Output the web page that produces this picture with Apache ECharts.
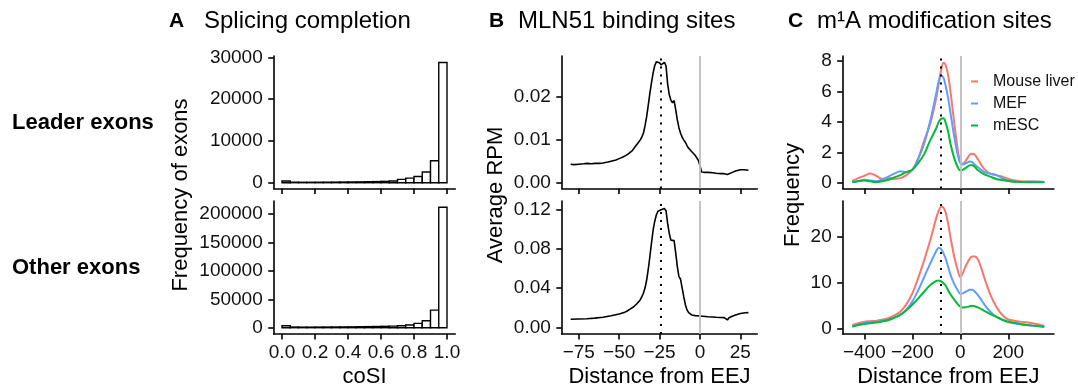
<!DOCTYPE html>
<html>
<head>
<meta charset="utf-8">
<script src="https://cdn.jsdelivr.net/npm/echarts@6/dist/echarts.min.js"></script>
<style>html,body{margin:0;padding:0;background:#fff}#c{width:1078px;height:389px}</style>
</head>
<body>
<div id="c"></div>
<script>
// ---------- DATA ----------
const binStart = [0,0.05,0.1,0.15,0.2,0.25,0.3,0.35,0.4,0.45,0.5,0.55,0.6,0.65,0.7,0.75,0.8,0.85,0.9,0.95];
const binWidth = 0.05;
const leaderCounts = [420,120,100,100,110,120,140,160,180,200,230,270,320,400,790,1100,1500,2550,5240,28740];
const otherCounts = [3500,1200,1000,1000,1100,1200,1300,1400,1500,1700,1900,2100,2400,2800,3500,4700,7700,12300,31000,212000];

const mlnLeaderX = [-80,-78,-75,-72,-70,-67,-65,-62,-60,-57,-55,-52,-50,-48,-46,-44,-42,-40,-38,-37,-36,-35,-34,-33,-32,-31,-30,-29,-28,-27,-26,-25,-24,-23,-22,-21,-20,-19,-18,-17,-16,-15,-14,-13,-12,-11,-10,-9,-8,-7,-6,-5,-4,-3,-2,-1,0,1,3,5,8,10,13,15,17,18,20,22,25,27,30];
const mlnLeaderY = [0.0043,0.0042,0.0043,0.0044,0.0045,0.0044,0.0045,0.0045,0.0046,0.0048,0.0050,0.0053,0.0056,0.0059,0.0063,0.0068,0.0074,0.0084,0.0094,0.0099,0.0106,0.0115,0.0132,0.0153,0.0180,0.0208,0.0232,0.0255,0.0272,0.0281,0.0282,0.0279,0.0274,0.0270,0.0280,0.0272,0.0230,0.0205,0.0192,0.0186,0.0191,0.0170,0.0146,0.0128,0.0115,0.0106,0.0099,0.0094,0.0086,0.0080,0.0076,0.0072,0.0069,0.0064,0.0058,0.0052,0.0040,0.0025,0.0024,0.0024,0.0023,0.0022,0.0021,0.0021,0.0019,0.0020,0.0024,0.0027,0.0030,0.0030,0.0029];
const mlnOtherX = [-80,-75,-70,-65,-60,-55,-50,-47,-45,-43,-41,-39,-37,-36,-35,-34,-33,-32,-31,-30,-29,-28,-27,-26,-25,-24,-23,-22,-21,-20,-19,-18,-17,-16,-15,-14,-13,-12,-11,-10,-9,-8,-7,-6,-5,-3,0,5,10,15,16,17,18,19,20,22,25,28,30];
const mlnOtherY = [0.0082,0.0085,0.0088,0.0094,0.0102,0.0117,0.0136,0.0150,0.0166,0.0188,0.0210,0.0240,0.0279,0.0310,0.0347,0.0400,0.0480,0.0590,0.0720,0.0860,0.0990,0.1080,0.1146,0.1185,0.1204,0.1200,0.1185,0.1212,0.1190,0.1060,0.0960,0.0890,0.0870,0.0885,0.0760,0.0620,0.0517,0.0490,0.0400,0.0310,0.0230,0.0177,0.0150,0.0133,0.0125,0.0119,0.0115,0.0108,0.0102,0.0099,0.0090,0.0075,0.0098,0.0105,0.0112,0.0125,0.0140,0.0148,0.0150];

const m1aX = [-450,-425,-400,-375,-350,-325,-300,-275,-250,-225,-200,-175,-150,-125,-100,-90,-80,-70,-60,-50,-40,-25,-10,0,10,25,40,50,60,75,100,125,150,175,200,250,300,350];
const leaderLiver = [0.12,0.3,0.45,0.6,0.45,0.25,0.3,0.25,0.3,0.5,0.85,1.6,2.8,3.9,5.6,6.5,7.4,7.9,7.7,7.0,5.9,3.9,2.1,1.3,1.25,1.5,1.85,1.9,1.85,1.5,0.9,0.6,0.5,0.4,0.25,0.1,0.07,0.05];
const leaderMEF = [0.05,0.1,0.2,0.15,0.1,0.2,0.4,0.6,0.75,0.7,0.85,1.6,2.6,4.1,5.9,6.7,7.05,6.9,6.3,5.5,4.5,3.0,1.8,1.3,1.2,1.3,1.4,1.35,1.2,1.0,0.7,0.6,0.5,0.3,0.12,0.05,0.08,0.05];
const leaderESC = [0.05,0.12,0.15,0.1,0.03,0.1,0.2,0.35,0.5,0.7,0.85,1.3,1.9,2.8,3.6,4.0,4.2,4.25,3.9,3.3,2.5,1.6,1.0,0.8,0.85,1.0,1.15,1.15,1.05,0.8,0.55,0.4,0.25,0.18,0.12,0.05,0.03,0.03];
const otherLiver = [0.7,1.1,1.45,1.55,1.6,1.9,2.2,2.8,3.6,5.2,7.6,11.0,14.9,19.2,24.0,25.5,26.4,26.2,25.0,22.5,19.5,15.5,12.5,11.1,12.0,13.8,15.2,15.6,15.6,14.8,11.0,7.3,4.7,2.9,1.9,1.45,1.1,0.5];
const otherMEF = [0.36,0.8,1.1,1.3,1.45,1.6,1.8,2.3,2.9,4.0,5.8,8.3,11.2,14.1,16.8,17.5,17.2,16.3,15.0,13.2,11.5,9.6,8.2,7.5,7.6,8.0,8.4,8.4,8.0,7.1,5.2,3.6,2.5,1.8,1.3,0.9,0.58,0.36];
const otherESC = [0.36,0.7,0.95,1.1,1.25,1.5,1.8,2.3,2.9,3.9,5.1,6.5,8.0,9.4,10.3,10.4,10.2,9.8,9.2,8.2,7.3,6.2,5.2,4.7,4.5,4.6,4.8,4.9,4.8,4.5,3.8,3.1,2.5,1.9,1.45,0.95,0.58,0.36];

const ticksA_x = [0,0.2,0.4,0.6,0.8,1.0];
const ticksA_yTop = [0,10000,20000,30000];
const ticksA_yBot = [0,50000,100000,150000,200000];
const ticksB_x = [-75,-50,-25,0,25];
const ticksB_yTop = [0,0.01,0.02];
const ticksB_yBot = [0,0.04,0.08,0.12];
const ticksC_x = [-400,-200,0,200];
const ticksC_yTop = [0,2,4,6,8];
const ticksC_yBot = [0,10,20];
const peakB = -24, peakC = -80;

// ---------- OPTION ----------
const FF = "'Liberation Sans', Arial, Helvetica, sans-serif";
const TICKFS = 19;
const minus = s => String(s).replace('-', '\u2212');
const topY = 56, topH = 132.5, botY = 201, botH = 133;
const grids = [
  {left:273.75, width:181.5, top:topY, height:topH},
  {left:273.75, width:181.5, top:botY, height:botH},
  {left:561.8, width:195.5, top:topY, height:topH},
  {left:561.8, width:195.5, top:botY, height:botH},
  {left:842.7, width:211.2, top:topY, height:topH},
  {left:842.7, width:211.2, top:botY, height:botH}
];
function ax(type, gi, min, max, ticks, showLabels, fmt){
  return {
    type:'value', gridIndex:gi, min:min, max:max,
    axisLine:{show:true, onZero:false, lineStyle:{color:'#000', width:1.6}},
    axisTick:{show:true, customValues:ticks, length:5.5, lineStyle:{color:'#000', width:1.6}},
    axisLabel:{show:showLabels, customValues:ticks, formatter:fmt, fontSize:TICKFS, fontFamily:FF, color:'#111', margin: type==='x'?9:11},
    splitLine:{show:false}
  };
}
const xAxes = [
  ax('x',0,-0.05,1.05,ticksA_x,false,v=>v.toFixed(1)),
  ax('x',1,-0.05,1.05,ticksA_x,true,v=>v.toFixed(1)),
  ax('x',2,-85.5,35.5,ticksB_x,false,v=>minus(v)),
  ax('x',3,-85.5,35.5,ticksB_x,true,v=>minus(v)),
  ax('x',4,-490,390,ticksC_x,false,v=>minus(v)),
  ax('x',5,-490,390,ticksC_x,true,v=>minus(v))
];
const yAxes = [
  ax('y',0,-1388,30311,ticksA_yTop,true,v=>String(v)),
  ax('y',1,-11092,223063,ticksA_yBot,true,v=>String(v)),
  ax('y',2,-0.00135,0.02947,ticksB_yTop,true,v=>v.toFixed(2)),
  ax('y',3,-0.00684,0.1289,ticksB_yBot,true,v=>v.toFixed(2)),
  ax('y',4,-0.38,8.34,ticksC_yTop,true,v=>String(v)),
  ax('y',5,-1.24,27.67,ticksC_yBot,true,v=>String(v))
];

function hist(gi, counts){
  return {
    type:'custom', xAxisIndex:gi, yAxisIndex:gi,
    data: binStart.map((s,i)=>[s, s+binWidth, counts[i]]),
    encode:{x:[0,1], y:2},
    renderItem:(params, api)=>{
      const p0 = api.coord([api.value(0), 0]);
      const p1 = api.coord([api.value(1), api.value(2)]);
      return {type:'rect', shape:{x:p0[0], y:p1[1], width:p1[0]-p0[0], height:p0[1]-p1[1]},
        style:{fill:'#fff', stroke:'#000', lineWidth:1.4}};
    }
  };
}
function vlines(peak){
  return {
    silent:true, symbol:['none','none'], label:{show:false}, animation:false,
    data:[
      {xAxis:0, lineStyle:{color:'#BEBEBE', width:1.8, type:'solid'}},
      {xAxis:peak, lineStyle:{color:'#000', width:2, type:[2,6]}}
    ]
  };
}
function line(gi, xs, ys, name, color, width, smooth, ml){
  const s = {
    type:'line', name:name, xAxisIndex:gi, yAxisIndex:gi,
    data: xs.map((x,i)=>[x, ys[i]]),
    showSymbol:false, symbol:'none', smooth:smooth,
    lineStyle:{color:color, width:width}, itemStyle:{color:color},
    emphasis:{disabled:true}, animation:false, z:3
  };
  if (ml) s.markLine = ml;
  return s;
}
const RED='#F8766D', BLUE='#619CFF', GREEN='#00BA38';
const series = [
  hist(0, leaderCounts),
  hist(1, otherCounts),
  line(2, mlnLeaderX, mlnLeaderY, 'MLN51 leader', '#000', 1.6, false, vlines(peakB)),
  line(3, mlnOtherX, mlnOtherY, 'MLN51 other', '#000', 1.6, false, vlines(peakB)),
  line(4, m1aX, leaderLiver, 'Mouse liver', RED, 2, 0.35, vlines(peakC)),
  line(4, m1aX, leaderMEF, 'MEF', BLUE, 2, 0.35),
  line(4, m1aX, leaderESC, 'mESC', GREEN, 2, 0.35),
  line(5, m1aX, otherLiver, 'Mouse liver', RED, 2, 0.35, vlines(peakC)),
  line(5, m1aX, otherMEF, 'MEF', BLUE, 2, 0.35),
  line(5, m1aX, otherESC, 'mESC', GREEN, 2, 0.35)
];

function txt(text, x, y, size, weight, rot, align){
  return {type:'text', x:x, y:y, rotation:rot||0, silent:true,
    style:{text:text, fontSize:size, fontWeight:weight||'normal', fontFamily:FF, fill:'#000',
      align:align||'left', textAlign:align||'left', verticalAlign:'middle', textVerticalAlign:'middle'}};
}
const graphics = [
  txt('A', 169, 21, 21, 'bold'),
  txt('Splicing completion', 204, 21, 24),
  txt('B', 489, 21, 21, 'bold'),
  txt('MLN51 binding sites', 518, 21, 24),
  txt('C', 788, 21, 21, 'bold'),
  txt('m\u00B9A modification sites', 817, 21, 24),
  txt('Leader exons', 12, 123, 22, 'bold'),
  txt('Other exons', 12, 268, 22, 'bold'),
  txt('Frequency of exons', 181, 195, 22, 'normal', Math.PI/2, 'center'),
  txt('Average RPM', 496, 195, 22, 'normal', Math.PI/2, 'center'),
  txt('Frequency', 793, 195, 22, 'normal', Math.PI/2, 'center'),
  txt('coSI', 364.5, 377, 22, 'normal', 0, 'center'),
  txt('Distance from EEJ', 659.5, 377, 22, 'normal', 0, 'center'),
  txt('Distance from EEJ', 948.3, 377, 22, 'normal', 0, 'center')
];

const option = {
  backgroundColor:'#fff',
  animation:false,
  grid: grids,
  xAxis: xAxes,
  yAxis: yAxes,
  legend: {
    data:['Mouse liver','MEF','mESC'], orient:'vertical', left:971, top:73.5, padding:0,
    icon:'rect', itemWidth:7, itemHeight:2, itemGap:6, selectedMode:false,
    textStyle:{fontSize:16, fontFamily:FF, color:'#111', lineHeight:16, padding:[0,0,0,10]}
  },
  graphic: graphics,
  series: series
};
const chart = echarts.init(document.getElementById('c'), null, {renderer:'canvas'});
chart.setOption(option);
</script>
</body>
</html>
